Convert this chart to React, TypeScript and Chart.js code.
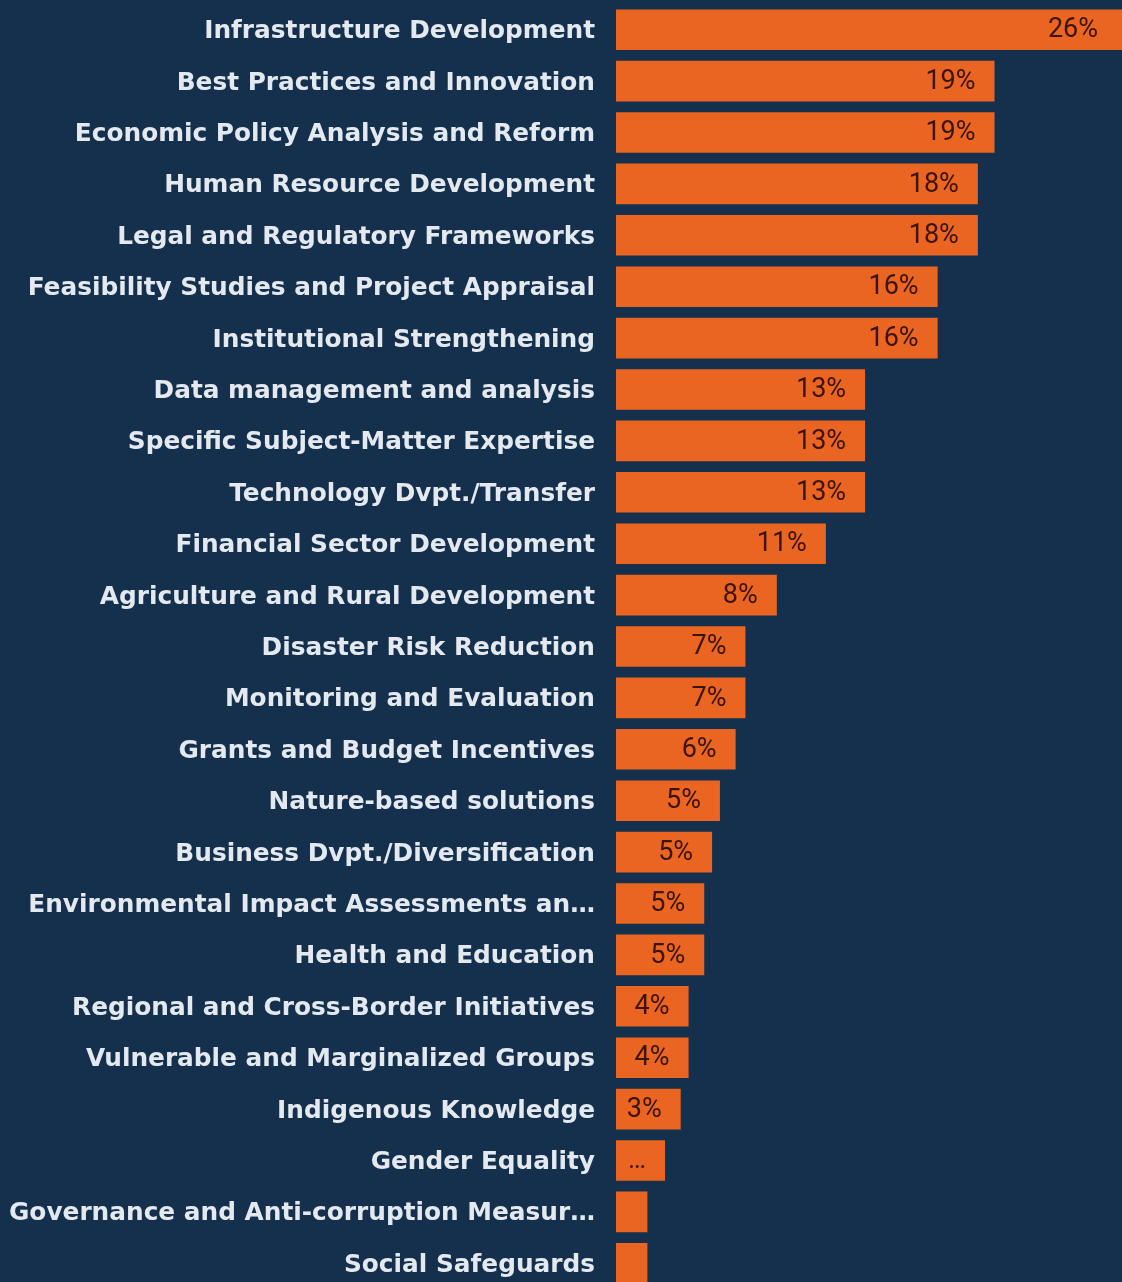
import { useEffect, useRef } from "react";
import { Chart, registerables } from "chart.js";

Chart.register(...registerables);

const categories = [
  "Infrastructure Development",
  "Best Practices and Innovation",
  "Economic Policy Analysis and Reform",
  "Human Resource Development",
  "Legal and Regulatory Frameworks",
  "Feasibility Studies and Project Appraisal",
  "Institutional Strengthening",
  "Data management and analysis",
  "Specific Subject-Matter Expertise",
  "Technology Dvpt./Transfer",
  "Financial Sector Development",
  "Agriculture and Rural Development",
  "Disaster Risk Reduction",
  "Monitoring and Evaluation",
  "Grants and Budget Incentives",
  "Nature-based solutions",
  "Business Dvpt./Diversification",
  "Environmental Impact Assessments an…",
  "Health and Education",
  "Regional and Cross-Border Initiatives",
  "Vulnerable and Marginalized Groups",
  "Indigenous Knowledge",
  "Gender Equality",
  "Governance and Anti-corruption Measur…",
  "Social Safeguards",
];

const shares = [
  25.8, 19.3, 19.3, 18.45, 18.45, 16.4, 16.4, 12.7, 12.7, 12.7, 10.7, 8.2, 6.6,
  6.6, 6.1, 5.3, 4.9, 4.5, 4.5, 3.7, 3.7, 3.3, 2.5, 1.6, 1.6,
];

const BG = "#15304d";
const BAR = "#ea6422";
const LABEL = "#e3e9ef";
const VALUE_TEXT = "#3a1507";

const barLabelPlugin = {
  id: "barLabels",
  afterDatasetsDraw(chart: any) {
    const ctx = chart.ctx;
    const meta = chart.getDatasetMeta(0);
    const right = chart.chartArea.right;
    ctx.save();
    ctx.font = "400 27px Roboto";
    ctx.fillStyle = VALUE_TEXT;
    ctx.textAlign = "right";
    ctx.textBaseline = "middle";
    meta.data.forEach((bar: any, i: number) => {
      const w = bar.x - bar.base;
      const text = w >= 60 ? Math.round(shares[i]) + "%" : w >= 40 ? "…" : "";
      if (!text) return;
      const end = Math.min(bar.x, right - 5);
      ctx.fillText(text, end - 19, bar.y + 1);
    });
    ctx.restore();
  },
};

export default function App() {
  const ref = useRef<HTMLCanvasElement | null>(null);

  useEffect(() => {
    document.body.style.margin = "0";
    document.body.style.background = BG;
    const canvas = ref.current;
    if (!canvas) return;
    const chart = new Chart(canvas, {
      type: "bar",
      data: {
        labels: categories,
        datasets: [
          {
            data: shares,
            backgroundColor: BAR,
            borderWidth: 0,
            categoryPercentage: 1,
            barPercentage: 0.79,
          },
        ],
      },
      options: {
        indexAxis: "y",
        animation: false,
        responsive: false,
        maintainAspectRatio: false,
        devicePixelRatio: 1,
        layout: { padding: { top: 4, bottom: 0, left: 0, right: 0 }, autoPadding: false },
        plugins: {
          legend: { display: false },
          tooltip: { enabled: false },
        },
        scales: {
          x: {
            display: false,
            min: 0,
            max: Math.max(...shares),
          },
          y: {
            grid: { display: false, drawTicks: false },
            border: { display: false },
            ticks: {
              color: LABEL,
              padding: 21,
              labelOffset: 2,
              autoSkip: false,
              font: { family: '"DejaVu Sans"', weight: "bold", size: 24.8 },
            },
            afterFit: (scale: any) => {
              scale.width = 616;
              scale.paddingTop = 0;
              scale.paddingBottom = 0;
            },
          },
        },
      },
      plugins: [barLabelPlugin],
    });
    return () => chart.destroy();
  }, []);

  return (
    <div
      style={{
        position: "relative",
        width: 1122,
        height: 1282,
        overflow: "hidden",
        background: BG,
      }}
    >
      <canvas
        ref={ref}
        width={1122}
        height={1289}
        style={{ display: "block", width: 1122, height: 1289 }}
      />
    </div>
  );
}
